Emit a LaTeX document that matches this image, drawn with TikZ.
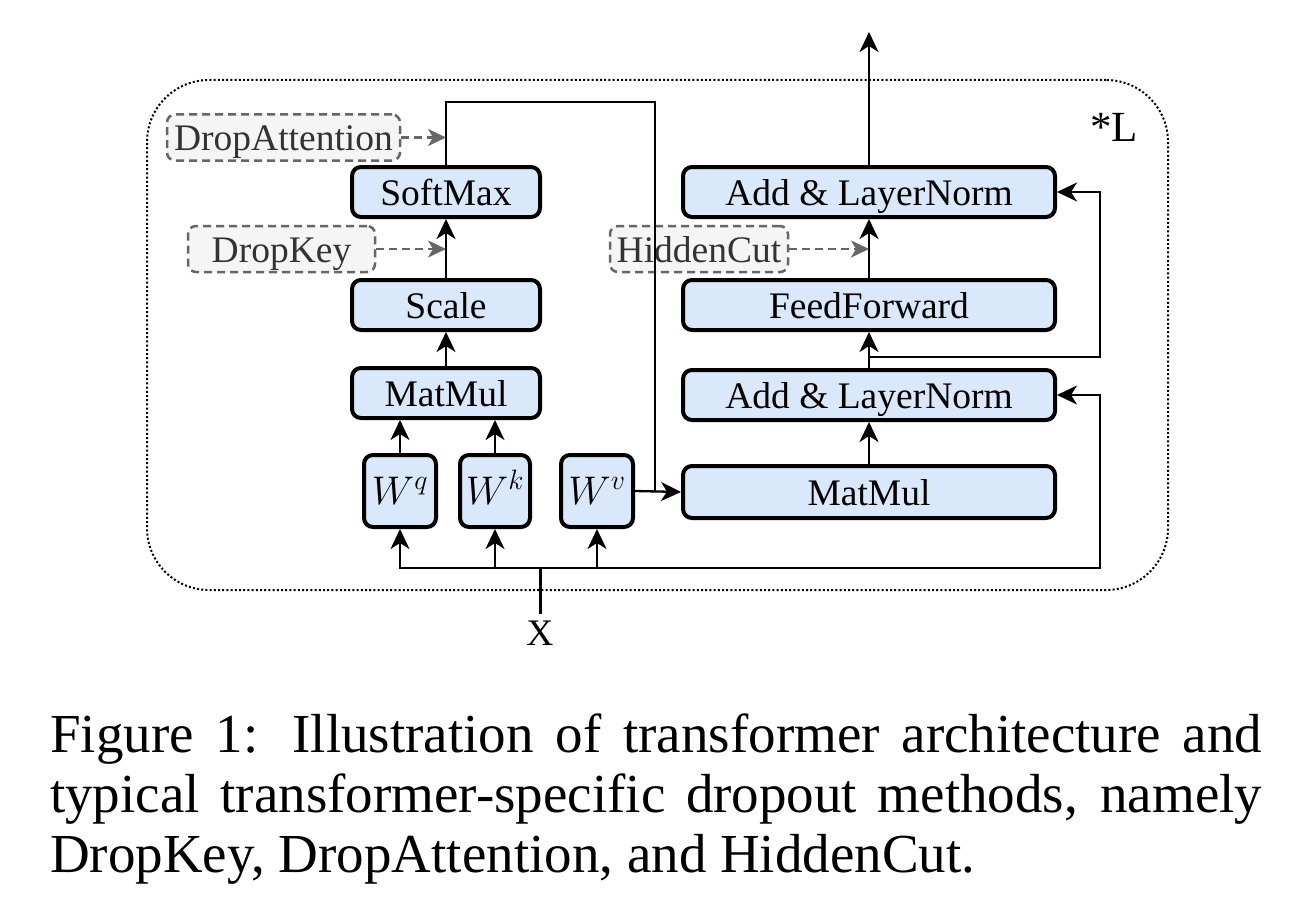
\RequirePackage{fix-cm}
\documentclass[tikz,border=0pt]{standalone}
\usepackage{fontspec}
\setmainfont{Liberation Serif}
\usetikzlibrary{arrows.meta}
\definecolor{blfill}{HTML}{DAE8FC}
\definecolor{grfill}{HTML}{F5F5F5}
\definecolor{grline}{HTML}{666666}
\definecolor{grtext}{HTML}{333333}
\begin{document}
\begin{tikzpicture}[x=1pt,y=-1pt,
  blk/.style={draw=black,line width=4pt,fill=blfill,rounded corners=9pt,inner sep=0pt,
    font=\fontsize{37.5}{42}\selectfont,text height=29pt,text depth=2pt},
  wbox/.style={blk,minimum height=72pt,font=\fontsize{40}{44}\selectfont,text height=31pt,text depth=4pt},
  dropbox/.style={draw=grline,line width=2.5pt,dash pattern=on 8pt off 5pt,fill=grfill,
    rounded corners=8pt,inner sep=0pt,text=grtext,font=\fontsize{37.5}{42}\selectfont,
    text height=29pt,text depth=3pt},
  conn/.style={line width=2.3pt,-{Stealth[length=20pt,width=19pt,inset=6pt]}},
  plain/.style={line width=2.3pt},
  dconn/.style={line width=2.5pt,draw=grline,dash pattern=on 8pt off 5pt,
    -{Stealth[length=18pt,width=17pt,inset=5pt,fill=grline,sep=0pt]}},
  frame/.style={draw=black,line width=2pt,dash pattern=on 2pt off 2.2pt,rounded corners=62pt,inner sep=0pt},
  captext/.style={anchor=base west,inner sep=0pt,font=\fontsize{55}{60}\selectfont}
]
\useasboundingbox (0,0) rectangle (1300,915);
\fill[white] (0,0) rectangle (1300,915);

% outer dotted frame
\node[frame,minimum width=1021pt,minimum height=510pt] (frm) at (657.5,335) {};
\node[anchor=base west,inner sep=0pt,font=\fontsize{43}{46}\selectfont] (lbl) at (1090,141) {*L};

% attention side
\node[blk,minimum width=188pt,minimum height=50pt] (softmax) at (446,192) {SoftMax};
\node[blk,minimum width=188pt,minimum height=50pt] (scale) at (446,305) {Scale};
\node[blk,minimum width=188pt,minimum height=50pt] (mm1) at (446,393) {MatMul};
\node[wbox,minimum width=72pt] (wq) at (400,491) {$W^{q}$};
\node[wbox,minimum width=70pt] (wk) at (495,491) {$W^{k}$};
\node[wbox,minimum width=72pt] (wv) at (597,491) {$W^{v}$};

% right side
\node[blk,minimum width=372pt,minimum height=52pt] (mm2) at (869,492) {MatMul};
\node[blk,minimum width=372pt,minimum height=50pt] (aln1) at (869,395) {Add \& LayerNorm};
\node[blk,minimum width=372pt,minimum height=50pt] (ff) at (869,305) {FeedForward};
\node[blk,minimum width=372pt,minimum height=50pt] (aln2) at (869,192) {Add \& LayerNorm};

% dropout boxes
\node[dropbox,minimum width=233pt,minimum height=46pt] (datt) at (283.5,137.5) {DropAttention};
\node[dropbox,minimum width=187pt,minimum height=46pt] (dkey) at (281.5,249) {DropKey};
\node[dropbox,minimum width=178pt,minimum height=46pt] (hcut) at (699,249) {HiddenCut};

% input
\node[inner sep=0pt,font=\fontsize{37.5}{42}\selectfont,anchor=base] (x) at (540,645) {X};
\coordinate (xtop) at (540,614);
\coordinate (bus) at (540,568);
\coordinate (busr) at (1100,568);
\coordinate (tp) at (655,102);
\coordinate (br) at (869,357);
\coordinate (brr) at (1100,357);
\coordinate (out) at (869,32);

% connectors
\draw[line width=3pt] (xtop) -- (bus);
\draw[conn] (bus) -| (wq.south);
\draw[conn] (bus) -| (wk.south);
\draw[conn] (bus) -| (wv.south);
\draw[conn] (bus) -- (busr) |- (aln1.east);
\draw[conn] (wq.north) -- (wq.north |- mm1.south);
\draw[conn] (wk.north) -- (wk.north |- mm1.south);
\draw[conn] (mm1.north) -- (scale.south);
\draw[conn] (scale.north) -- (softmax.south);
\draw[plain] (softmax.north) |- (tp) -- (tp |- mm2.west);
\draw[conn] (wv.east) -- (mm2.west);
\draw[conn] (mm2.north) -- (aln1.south);
\draw[conn] (aln1.north) -- (ff.south);
\draw[conn] (br) -- (brr) |- (aln2.east);
\draw[conn] (ff.north) -- (aln2.south);
\draw[conn] (aln2.north) -- (out);

\draw[dconn] (datt.east) -- (datt.east -| softmax.north);
\draw[dconn] (dkey.east) -- (dkey.east -| softmax.south);
\draw[dconn] (hcut.east) -- (hcut.east -| ff.north);

% caption
\node[captext] (c1) at (50,752) {\makebox[1212pt][s]{Figure 1: Illustration of transformer architecture and}};
\node[captext] (c2) at (50,812) {\makebox[1212pt][s]{typical transformer-specific dropout methods, namely}};
\node[captext] (c3) at (50,872) {DropKey, DropAttention, and HiddenCut.};
\end{tikzpicture}
\end{document}
